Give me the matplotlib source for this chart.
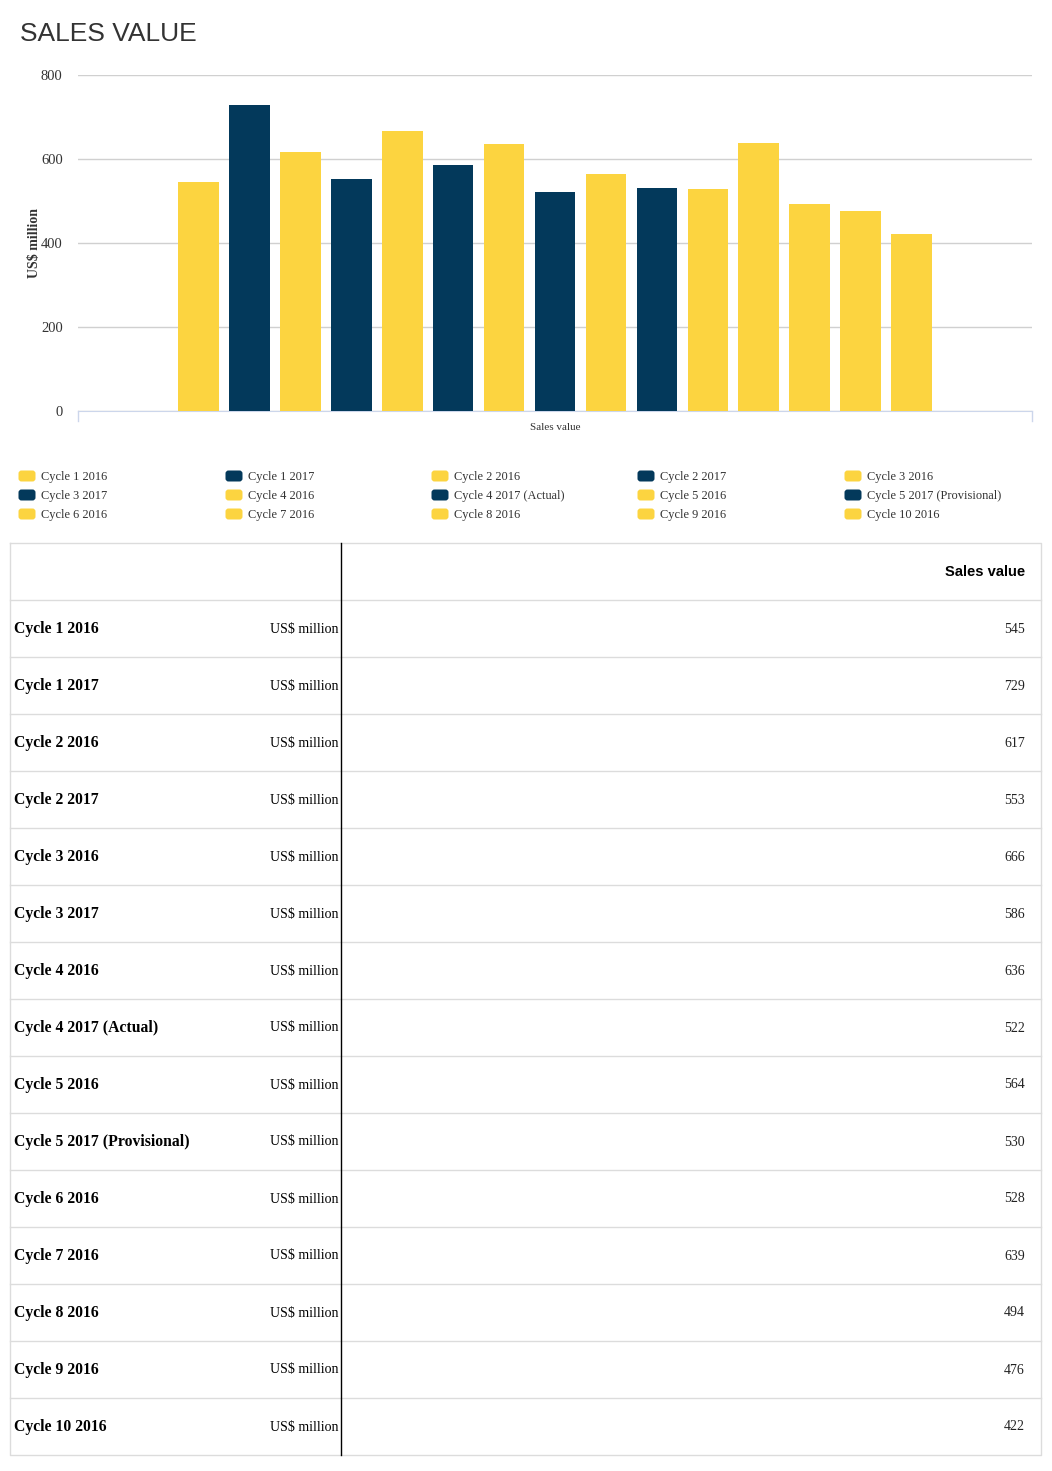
import matplotlib.pyplot as plt
from matplotlib.patches import FancyBboxPatch

categories = [
    "Cycle 1 2016", "Cycle 1 2017", "Cycle 2 2016", "Cycle 2 2017",
    "Cycle 3 2016", "Cycle 3 2017", "Cycle 4 2016", "Cycle 4 2017 (Actual)",
    "Cycle 5 2016", "Cycle 5 2017 (Provisional)", "Cycle 6 2016", "Cycle 7 2016",
    "Cycle 8 2016", "Cycle 9 2016", "Cycle 10 2016",
]
sales = [545, 729, 617, 553, 666, 586, 636, 522, 564, 530, 528, 639, 494, 476, 422]
unit = "US$ million"
yticks = [0, 200, 400, 600, 800]

YELLOW = "#FCD440"
NAVY = "#03395B"
colors = [NAVY if "2017" in c else YELLOW for c in categories]

SERIF = "Liberation Serif"
SANS = "Liberation Sans"
W, H = 1052, 1471

fig = plt.figure(figsize=(W / 100, H / 100), dpi=100)

# overlay in pixel coordinates for title, legend and table
ov = fig.add_axes([0, 0, 1, 1])
ov.set_xlim(0, W)
ov.set_ylim(H, 0)
ov.axis("off")

ov.text(20, 34, "SALES VALUE", fontsize=19, family=SANS, color="#333333",
        va="center", ha="left")

# chart
ax = fig.add_axes([78 / W, (H - 411) / H, 954 / W, 336 / H])
x = list(range(len(categories)))
ax.bar(x, sales, width=0.8, color=colors, zorder=3)
ax.set_xlim(-2.36, 16.36)
ax.set_ylim(0, 800)
ax.set_yticks(yticks)
ax.set_yticklabels([str(v) for v in yticks], family=SERIF, fontsize=10.5, color="#333333")
ax.tick_params(axis="y", length=0, pad=11)
ax.set_xticks([])
ax.grid(axis="y", color="#d0d0d0", linewidth=1, zorder=0)
for s in ["top", "right", "left"]:
    ax.spines[s].set_visible(False)
ax.spines["bottom"].set_color("#ccd6eb")
ax.set_ylabel(unit, family=SERIF, fontsize=10, fontweight="bold", color="#333333")
ax.yaxis.set_label_coords(-37 / 954, 0.5)
ax.set_facecolor("none")

# x category ticks at axis ends + label
ov.plot([78, 78], [411, 421], color="#ccd6eb", lw=1)
ov.plot([1032, 1032], [411, 421], color="#ccd6eb", lw=1)
ov.text(555, 427, "Sales value", family=SERIF, fontsize=8, color="#333333",
        ha="center", va="center")

# legend, filled row by row
col_x = [19, 226, 432, 638, 845]
row_y = [476, 495, 514]
for i, (name, col) in enumerate(zip(categories, colors)):
    cx = col_x[i % 5]
    cy = row_y[i // 5]
    ov.add_patch(FancyBboxPatch((cx + 1, cy - 4), 14, 8,
                                boxstyle="round,pad=1.5,rounding_size=3",
                                facecolor=col, edgecolor="none"))
    ov.text(cx + 22, cy + 1, name, family=SERIF, fontsize=8.9, color="#333333",
            ha="left", va="center")

# table
top, hdr_h, row_h = 543, 57, 57
left, right, split = 10, 1041, 341
bottom = top + hdr_h + row_h * len(categories)
grid_c = "#dcdcdc"
ov.plot([left, right, right, left, left], [top, top, bottom, bottom, top], color=grid_c, lw=1)
for k in range(len(categories)):
    yy = top + hdr_h + row_h * k
    ov.plot([left, right], [yy, yy], color=grid_c, lw=1)
ov.plot([split, split], [top, bottom], color="black", lw=1)
ov.text(1025, top + 29, "Sales value", family=SANS, fontsize=10.6, fontweight="bold",
        color="black", ha="right", va="center")
for k, (name, val) in enumerate(zip(categories, sales)):
    yy = top + hdr_h + row_h * k + 29
    ov.text(14, yy, name, family=SERIF, fontsize=11.3, fontweight="bold",
            color="black", ha="left", va="center")
    ov.text(338, yy, unit, family=SERIF, fontsize=10, color="black",
            ha="right", va="center")
    ov.text(1025, yy, str(val), family=SERIF, fontsize=10, color="#222222",
            ha="right", va="center")

fig.savefig("out.png", dpi=100)
